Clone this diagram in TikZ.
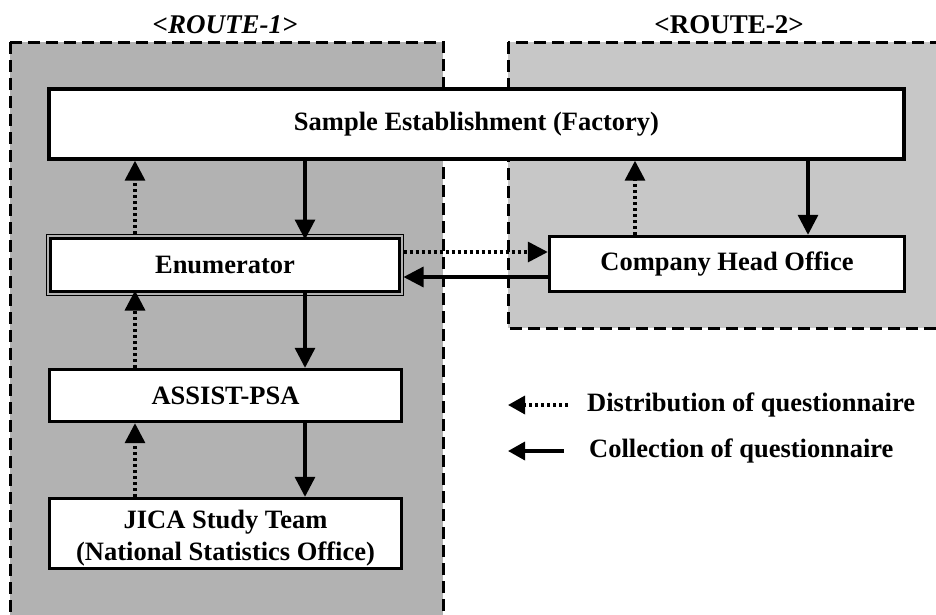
\documentclass[tikz,border=0pt]{standalone}
\usepackage{fontspec}
\setmainfont{Liberation Serif}
\usetikzlibrary{arrows.meta,calc}
\begin{document}
\begin{tikzpicture}[x=1pt,y=-1pt,
  routebox/.style={line width=3pt, dash pattern=on 12pt off 6pt},
  boxnode/.style={draw, fill=white, line width=3.4pt, inner sep=0pt, font=\fontsize{26.5}{33}\selectfont\bfseries, align=center},
  rlabel/.style={font=\fontsize{27}{32}\selectfont\bfseries, inner sep=0pt},
  legtext/.style={font=\fontsize{26.5}{32}\selectfont\bfseries, inner sep=0pt, anchor=west},
  dist/.style={line width=3.4pt, dash pattern=on 3pt off 3pt, -{Triangle[length=20pt,width=20pt]}},
  coll/.style={line width=3.2pt, -{Triangle[length=20pt,width=20pt]}},
  ldist/.style={line width=3.4pt, dash pattern=on 3pt off 3pt, -{Triangle[length=17pt,width=18pt]}},
  lcoll/.style={line width=3.4pt, -{Triangle[length=17pt,width=18pt]}}
]
\useasboundingbox (0,0) rectangle (936,614);
\clip (0,0) rectangle (936,614);
\fill[white] (0,0) rectangle (936,614);

% route areas
\draw[routebox, fill=black!30] (10,42) rectangle (443,650);
\draw[routebox, fill=black!22] (508,42) rectangle (970,328);
\node[rlabel] (r1) at (225,25) {\itshape <ROUTE-1>};
\node[rlabel] (r2) at (729,25) {<ROUTE-2>};

% boxes
\node[boxnode, minimum width=855pt, minimum height=70pt] (se) at (476.5,124) {Sample Establishment (Factory)};
\node[boxnode, line width=3pt, minimum width=349pt, minimum height=53pt] (enum) at (225,265) {Enumerator};
\draw[line width=1.4pt] ($(enum.north west)+(-2.5,-2.5)$) rectangle ($(enum.south east)+(2.5,2.5)$);
\node[boxnode, minimum width=355pt, minimum height=55pt] (cho) at (727,264) {Company Head Office};
\node[boxnode, minimum width=352pt, minimum height=52pt] (assist) at (225.5,395.5) {ASSIST-PSA};
\node[boxnode, minimum width=352pt, minimum height=70pt, text depth=0pt] (jica) at (225.5,533.5) {\raisebox{-4pt}{JICA Study Team}\\\raisebox{-3pt}{(National Statistics Office)}};

% x positions of the vertical connectors
\coordinate (xu1) at (135,0);
\coordinate (xd1) at (305,0);
\coordinate (xu2) at (635,0);
\coordinate (xd2) at (808,0);
\coordinate (yd) at (0,252);
\coordinate (yc) at (0,277);

% route 1
\draw[dist] ([yshift=-2.5pt]enum.north -| xu1) -- (se.south -| xu1);
\draw[coll] (se.south -| xd1) -- ([yshift=-2.5pt]enum.north -| xd1);
\draw[dist] (assist.north -| xu1) -- ([yshift=2.5pt]enum.south -| xu1);
\draw[coll] ([yshift=2.5pt]enum.south -| xd1) -- (assist.north -| xd1);
\draw[dist] (jica.north -| xu1) -- (assist.south -| xu1);
\draw[coll] (assist.south -| xd1) -- (jica.north -| xd1);

% route 2
\draw[dist] (cho.north -| xu2) -- (se.south -| xu2);
\draw[coll] (se.south -| xd2) -- (cho.north -| xd2);
\draw[dist] ([xshift=2.5pt]enum.east |- yd) -- (cho.west |- yd);
\draw[coll] (cho.west |- yc) -- ([xshift=2.5pt]enum.east |- yc);

% legend
\coordinate (la1) at (508,405);
\coordinate (lb1) at (568,405);
\coordinate (la2) at (508,451);
\coordinate (lb2) at (564,451);
\draw[ldist] (lb1) -- (la1);
\draw[lcoll] (lb2) -- (la2);
\node[legtext] (t1) at (587,405) {Distribution of questionnaire};
\node[legtext] (t2) at (589,451) {Collection of questionnaire};
\end{tikzpicture}
\end{document}
